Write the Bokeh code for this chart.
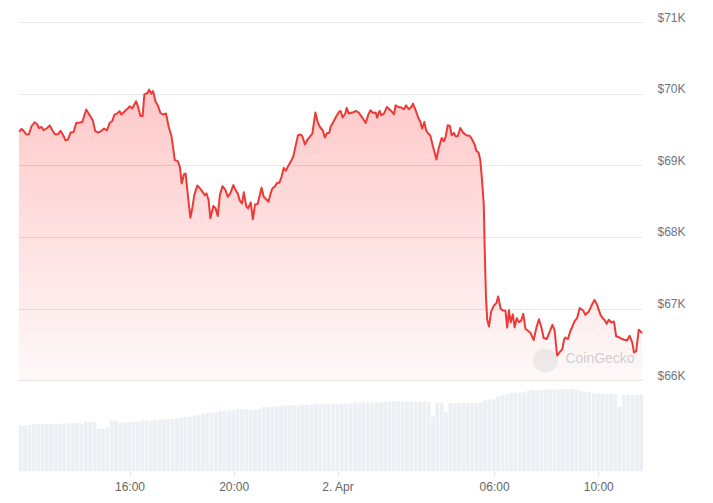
import numpy as np
import pandas as pd
from bokeh.plotting import figure
from bokeh.models import FixedTicker, Range1d, Label
from bokeh.embed import file_html
from bokeh.resources import INLINE

# ---------------- data ----------------
start_time = "2024-04-01 11:43"
window_minutes = 1440

price_minutes = [1,7,12,18,24,30,37,43,47,53,58,66,72,78,84,91,97,103,108,114,120,127,133,141,147,156,164,171,177,184,191,197,204,210,216,221,227,233,237,245,
247,252,256,262,266,271,275,281,286,290,297,301,306,310,316,321,327,333,340,346,352,356,360,367,372,376,381,385,391,396,401,405,412,418,424,429,433,438,442,449,454,459,464,470,
477,482,488,495,500,505,510,515,519,525,529,535,540,545,551,555,560,565,571,576,581,585,591,596,601,606,611,616,621,627,633,638,644,650,654,660,665,671,677,684,690,696,701,706,711,716,
719,724,730,738,742,747,753,756,761,769,778,784,792,800,806,811,817,823,826,832,836,842,849,855,861,865,869,875,882,888,893,899,905,909,915,921,926,930,935,939,
944,949,955,963,968,975,980,984,989,994,998,1003,1007,1012,1018,1025,1032,1040,1045,1051,1055,1060,1064,1068,1072,1074,1077,1080,1084,1089,
1095,1101,1105,1111,1117,1122,1126,1130,1134,1139,1143,1148,1153,1158,1163,1168,1173,1180,1187,1193,1199,1205,1210,1217,1223,1230,1235,1241,1246,1253,
1257,1260,1266,1271,1276,1281,1287,1293,1301,1306,1314,1320,1327,1333,1341,1346,1350,1355,1360,1366,1372,1377,1383,1389,1396,1402,1408,1414,1418,1423,1429,1437]

prices_usd = [69473,69515,69487,69437,69441,69552,69608,69580,69528,69542,69496,69528,69562,69496,69441,69441,69487,69427,69357,69367,69464,69473,69598,69604,69612,69785,69705,69636,69483,69464,69487,69520,69496,69598,69626,69715,69729,69761,69715,69761,
69775,69799,69831,69799,69845,69900,69831,69696,69696,69998,70016,70063,70008,70044,69891,69845,69737,69715,69729,69542,69427,69264,69079,69065,68977,68754,68879,68893,68545,68275,68428,68591,68726,68684,68637,68591,68615,68521,68266,68438,68406,68298,68591,68716,
68661,68567,68615,68730,68661,68615,68512,68475,68629,68428,68406,68489,68252,68461,68466,68567,68693,68567,68531,68498,68615,68684,68716,68762,68762,68846,68971,68930,68995,69055,69125,69264,69427,69437,69413,69297,69357,69403,69450,69743,69598,69528,69496,69395,69459,69459,
69542,69598,69668,69751,69765,69673,69729,69807,69729,69743,69765,69743,69673,69598,69715,69775,69737,69743,69673,69765,69705,69729,69821,69785,69751,69719,69845,69821,69813,69789,69845,69789,69821,69868,69775,69673,69612,69520,69612,69496,
69450,69420,69269,69088,69242,69389,69343,69403,69566,69556,69427,69459,69413,69413,69528,69459,69427,69417,69367,69297,69208,69186,69079,68800,68452,67871,67174,66850,66756,66965,
67045,67082,67174,67003,66979,66975,66742,66982,66815,66926,66745,66873,66818,66836,66933,66724,66701,66664,66567,66734,66857,66738,66595,66581,66669,66780,66710,66348,66390,66442,
66571,66603,66581,66683,66756,66829,66873,67013,66979,66919,66965,67045,67128,67059,66919,66871,66850,66794,66850,66812,66826,66617,66609,66585,66571,66561,66627,66534,66394,66408,66710,66664]

volume_minutes = list(range(5, 1440, 10))
volumes_bn = [18.4,18.4,18.6,19.0,19.0,19.0,19.1,19.0,19.1,19.0,
19.2,19.2,19.3,19.5,18.8,19.9,19.9,19.8,17.2,17.0,
17.6,20.4,20.3,19.5,19.6,19.9,19.9,20.0,20.4,20.4,
20.3,20.5,20.6,20.8,20.9,21.1,21.2,21.5,21.9,22.0,
22.3,22.5,23.2,23.5,23.6,23.8,24.3,24.4,24.5,24.6,
25.1,25.0,25.2,24.7,24.9,25.2,25.9,25.8,26.0,26.0,
26.4,26.5,26.5,26.6,26.5,26.8,26.8,26.9,27.2,27.1,
27.2,27.2,27.3,27.2,27.3,27.2,27.4,27.7,27.6,27.7,
27.8,27.6,27.7,27.8,28.1,28.0,28.1,28.2,28.0,28.1,
28.1,27.9,28.0,28.1,27.8,22.0,27.5,27.4,24.0,27.5,
27.4,27.5,27.6,27.5,27.4,27.5,27.6,28.6,28.8,29.0,
30.2,30.8,30.9,31.5,31.7,31.6,31.8,32.4,32.8,32.7,
32.8,32.8,32.9,32.8,32.9,33.0,33.1,33.1,32.8,32.3,
32.1,31.9,31.4,31.2,31.2,31.0,31.1,31.0,26.0,30.6,
30.8,30.7,30.8,30.9]

x_tick_times = ["2024-04-01 16:00", "2024-04-01 20:00", "2024-04-02 00:00",
                "2024-04-02 06:00", "2024-04-02 10:00"]
x_tick_labels = ["16:00", "20:00", "2. Apr", "06:00", "10:00"]

price_grid = [66000, 67000, 68000, 69000, 70000, 71000]
price_grid_labels = ["$66K", "$67K", "$68K", "$69K", "$70K", "$71K"]

# ---------------- styling ----------------
RED = "#ec3b36"
VOL_COLOR = "#eceff3"
GRID = "#e9e9e9"
FONT = "Liberation Sans"

start = pd.Timestamp(start_time)
t_price = (start + pd.to_timedelta(price_minutes, unit="m")).values
t_vol = (start + pd.to_timedelta(volume_minutes, unit="m")).values
prices = np.array(prices_usd, dtype=float)

p = figure(width=708, height=496, x_axis_type="datetime", y_axis_location="right",
           output_backend="svg", toolbar_location=None,
           x_range=Range1d(start, start + pd.Timedelta(minutes=window_minutes)),
           y_range=Range1d(64732, 71140),
           min_border_left=18, min_border_right=65, min_border_top=12,
           min_border_bottom=24)
p.outline_line_color = None
p.background_fill_color = "white"
p.border_fill_color = "white"
p.extra_y_ranges = {"vol": Range1d(0, 184)}

# volume bars
p.vbar(x=t_vol, top=volumes_bn, bottom=0, width=0.86 * 600000,
       y_range_name="vol", fill_color=VOL_COLOR, line_color=None)

# gradient-like area fill (stacked translucent layers)
levels = np.linspace(66000, 71000, 31)[:-1]
for i, L in enumerate(levels):
    a = 0.035 if i == 0 else 0.0095
    p.varea(x=t_price, y1=np.full(len(prices), L), y2=np.maximum(prices, L),
            fill_color=RED, fill_alpha=a)

p.line(t_price, prices, line_color=RED, line_width=2, line_join="round")

# watermark
tw = start + pd.Timedelta(minutes=1214)
p.add_layout(Label(x=tw, y=66320, text="●", text_color="#d9d9d9", text_alpha=0.45,
                   text_font_size="32px", text_align="center", text_baseline="middle",
                   text_font="DejaVu Sans"))
tw2 = start + pd.Timedelta(minutes=1260)
p.add_layout(Label(x=tw2, y=66320, text="CoinGecko", text_color="#c6c6c6",
                   text_alpha=0.85, text_font_size="14px", text_font_style="normal",
                   text_baseline="middle", text_font=FONT))

# grid
p.xgrid.visible = False
p.ygrid.ticker = FixedTicker(ticks=price_grid)
p.ygrid.grid_line_color = GRID
p.ygrid.grid_line_width = 1

# right price axis (labels sit just above the grid lines)
label_offset = 70
yticks = [g + label_offset for g in price_grid]
p.yaxis.ticker = FixedTicker(ticks=yticks)
p.yaxis.major_label_overrides = {int(v): lab for v, lab in zip(yticks, price_grid_labels)}
p.yaxis.axis_line_color = None
p.yaxis.major_tick_line_color = None
p.yaxis.minor_tick_line_color = None
p.yaxis.major_label_standoff = 8
p.yaxis.major_label_text_font = FONT
p.yaxis.major_label_text_font_size = "12px"
p.yaxis.major_label_text_color = "#6b7583"

# time axis
xt = [int(pd.Timestamp(s).value // 10**6) for s in x_tick_times]
p.xaxis.ticker = FixedTicker(ticks=xt)
p.xaxis.major_label_overrides = {v: lab for v, lab in zip(xt, x_tick_labels)}
p.xaxis.axis_line_color = None
p.xaxis.major_tick_line_color = "#e6e6e6"
p.xaxis.major_tick_out = 5
p.xaxis.major_tick_in = 0
p.xaxis.minor_tick_line_color = None
p.xaxis.major_label_standoff = 3
p.xaxis.major_label_text_font = FONT
p.xaxis.major_label_text_font_size = "12px"
p.xaxis.major_label_text_color = "#666666"

open("out.html", "w").write(file_html(p, INLINE))
